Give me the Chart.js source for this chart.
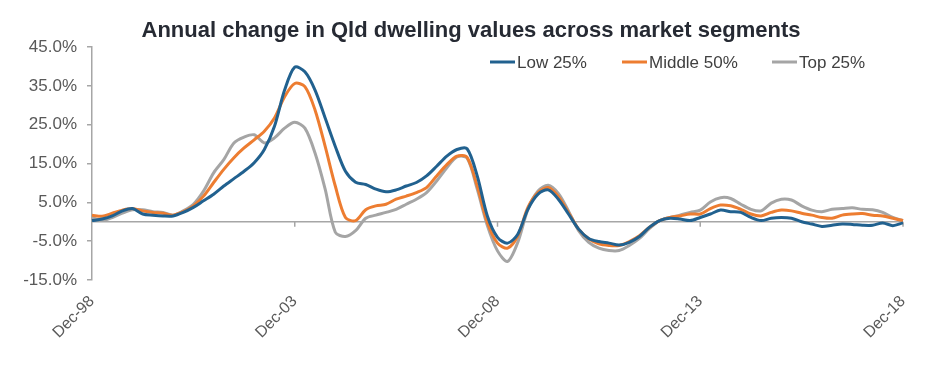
<!DOCTYPE html>
<html>
<head>
<meta charset="utf-8">
<script src="https://cdn.jsdelivr.net/npm/chart.js@4/dist/chart.umd.min.js"></script>
<style>
  html, body { margin: 0; padding: 0; background: #ffffff; }
  #wrap { width: 931px; height: 376px; position: relative; }
</style>
</head>
<body>
<div id="wrap"><canvas id="c" width="931" height="376"></canvas></div>
<script>
// ---- Data (quarterly, Dec-98 .. Dec-18) ----
const quarterMonths = ["Dec", "Mar", "Jun", "Sep"];
const startYear = 1998;
const tickLabels = ["Dec-98", "Dec-03", "Dec-08", "Dec-13", "Dec-18"];
const yTicks = [-15, -5, 5, 15, 25, 35, 45];

const chartTitle = "Annual change in Qld dwelling values across market segments";
const seriesNames = ["Low 25%", "Middle 50%", "Top 25%"];
const seriesColors = ["#21618f", "#ed7d31", "#a5a5a5"];

const low25 = [
  0.3, 0.7, 1.5, 2.8, 3.4, 2.0, 1.7, 1.5, 1.5, 2.4,
  3.7, 5.4, 7.1, 9.2, 11.1, 13.0, 15.2, 18.6, 24.6, 33.9,
  39.8, 38.6, 33.9, 26.7, 19.4, 13.0, 10.2, 9.6, 8.4, 7.7,
  8.2, 9.2, 10.1, 11.8, 14.3, 16.9, 18.6, 18.8, 11.8, 1.5,
  -4.0, -5.5, -3.2, 3.2, 7.1, 8.2, 5.8, 2.0, -1.9, -4.3,
  -5.1, -5.5, -6.0, -5.3, -3.8, -1.4, 0.3, 0.9, 0.7, 0.3,
  1.1, 2.0, 3.0, 2.6, 2.4, 1.1, 0.3, 0.9, 1.1, 0.9,
  0.0, -0.6, -1.2, -0.9, -0.6, -0.7, -0.9, -0.9, -0.3, -1.0,
  -0.3
];
const middle50 = [
  1.7, 1.4, 2.2, 3.0, 3.4, 2.8, 2.4, 2.2, 1.7, 2.6,
  4.1, 6.6, 10.1, 13.5, 16.5, 19.0, 21.1, 23.3, 26.7, 32.2,
  35.6, 34.8, 28.8, 19.4, 9.2, 1.1, 0.3, 3.1, 4.1, 4.5,
  5.8, 6.6, 7.5, 8.8, 11.8, 14.7, 16.9, 16.6, 9.2, -0.2,
  -5.5, -6.8, -3.6, 3.7, 7.5, 8.8, 6.5, 2.4, -1.9, -4.4,
  -5.7, -6.1, -6.1, -5.1, -3.6, -1.4, 0.3, 1.1, 1.5, 2.0,
  2.0, 3.4, 4.3, 4.1, 3.2, 2.0, 1.5, 2.4, 3.0, 2.8,
  2.2, 1.7, 1.1, 0.9, 1.7, 2.0, 2.1, 1.7, 1.5, 0.9,
  0.3
];
const top25 = [
  1.1, 0.3, 1.1, 2.2, 3.1, 3.1, 2.6, 2.4, 1.7, 2.8,
  4.5, 7.9, 12.6, 16.0, 20.3, 21.8, 22.4, 20.3, 21.6, 24.1,
  25.6, 24.1, 17.7, 8.4, -2.7, -3.8, -2.3, 0.9, 1.7, 2.4,
  3.2, 4.5, 5.8, 7.5, 10.5, 13.9, 16.7, 16.4, 8.4, -1.0,
  -7.5, -10.2, -5.3, 3.2, 7.9, 9.4, 7.3, 2.8, -2.3, -5.3,
  -6.8, -7.4, -7.4, -6.1, -4.3, -1.7, 0.3, 1.1, 1.7, 2.4,
  3.0, 5.1, 6.2, 6.0, 4.5, 3.2, 2.8, 4.8, 5.8, 5.6,
  4.1, 3.0, 2.6, 3.2, 3.4, 3.6, 3.2, 3.1, 2.4, 1.1,
  0.3
];

// category labels, one per quarter
const categories = [];
for (let i = 0; i < low25.length; i++) {
  const m = quarterMonths[i % 4];
  const yr = startYear + Math.ceil(i / 4);
  categories.push(m + "-" + String(yr % 100).padStart(2, "0"));
}

const FONT = "'Liberation Sans', Arial, sans-serif";

const extrasPlugin = {
  id: "extras",
  beforeDatasetsDraw(chart) {
    const ctx = chart.ctx;
    const area = chart.chartArea;
    const y0 = chart.scales.y.getPixelForValue(0);
    ctx.save();
    ctx.strokeStyle = "#a6a6a6";
    ctx.lineWidth = 1.5;
    ctx.beginPath();
    ctx.moveTo(area.left, y0);
    ctx.lineTo(area.right, y0);
    ctx.stroke();
    // small tick marks on the zero line
    const xs = chart.scales.x;
    categories.forEach((c, i) => {
      if (i > 0 && tickLabels.includes(c)) {
        const px = xs.getPixelForValue(i);
        ctx.beginPath();
        ctx.moveTo(px, y0);
        ctx.lineTo(px, y0 + 5);
        ctx.stroke();
      }
    });
    ctx.restore();
  },
  afterDraw(chart) {
    const ctx = chart.ctx;
    ctx.save();
    // title
    ctx.font = "bold 22px " + FONT;
    ctx.fillStyle = "#262a33";
    ctx.textAlign = "center";
    ctx.textBaseline = "alphabetic";
    ctx.fillText(chartTitle, 471, 37);
    // legend
    const legendX = [490, 622, 772];
    const legendY = 62;
    ctx.font = "17px " + FONT;
    ctx.textBaseline = "middle";
    ctx.textAlign = "left";
    seriesNames.forEach((name, i) => {
      const x = legendX[i];
      ctx.strokeStyle = seriesColors[i];
      ctx.lineWidth = 3;
      ctx.beginPath();
      ctx.moveTo(x, legendY);
      ctx.lineTo(x + 25, legendY);
      ctx.stroke();
      ctx.fillStyle = "#404040";
      ctx.fillText(name, x + 27, legendY + 1);
    });
    ctx.restore();
  }
};

const datasets = [low25, middle50, top25].map((d, i) => ({
  label: seriesNames[i],
  data: d,
  borderColor: seriesColors[i],
  backgroundColor: seriesColors[i],
  borderWidth: 3,
  pointRadius: 0,
  tension: 0.3,
  fill: false
}));
datasets[0].order = 1;
datasets[1].order = 2;
datasets[2].order = 3;

new Chart(document.getElementById("c"), {
  type: "line",
  data: { labels: categories, datasets: datasets },
  options: {
    responsive: false,
    animation: false,
    devicePixelRatio: 1,
    layout: { padding: { left: 0, right: 28, top: 47, bottom: 0 } },
    plugins: {
      legend: { display: false },
      tooltip: { enabled: false },
      title: { display: false }
    },
    scales: {
      x: {
        type: "category",
        offset: false,
        grid: { display: false },
        border: { display: false },
        ticks: {
          autoSkip: false,
          minRotation: 45,
          maxRotation: 45,
          padding: 4,
          color: "#595959",
          font: { family: FONT, size: 16 },
          callback: function (v, i) {
            const l = categories[i];
            return tickLabels.includes(l) ? l : null;
          }
        },
        afterFit: (s) => { s.height = 96; }
      },
      y: {
        min: -15,
        max: 45,
        afterBuildTicks: (s) => { s.ticks = yTicks.map(v => ({ value: v })); },
        grid: {
          drawOnChartArea: false,
          drawTicks: true,
          tickLength: 5,
          color: "#a6a6a6",
          lineWidth: 1.5
        },
        border: { display: true, color: "#a6a6a6", width: 1.5 },
        ticks: {
          padding: 10,
          color: "#595959",
          font: { family: FONT, size: 17 },
          callback: (v) => v.toFixed(1) + "%"
        },
        afterFit: (s) => { s.width = 92; }
      }
    }
  },
  plugins: [extrasPlugin]
});
</script>
</body>
</html>
